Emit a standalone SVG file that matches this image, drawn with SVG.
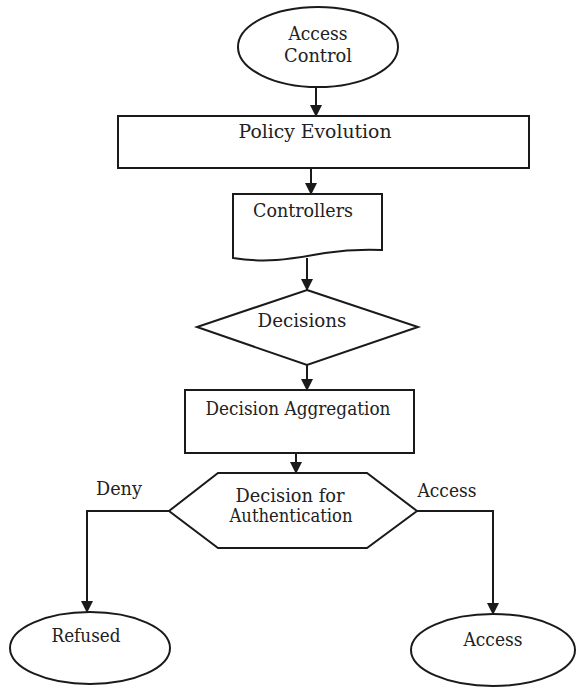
<svg xmlns="http://www.w3.org/2000/svg" width="577" height="688" viewBox="0 0 577 688">
<style>
.s{fill:#fff;stroke:#1a1a1a;stroke-width:2}
.c{fill:none;stroke:#1a1a1a;stroke-width:2}
text{font-family:'DejaVu Serif','Liberation Serif',serif;font-size:18px;fill:#222;text-anchor:middle}
</style>
<defs>
<marker id="ah" markerUnits="userSpaceOnUse" markerWidth="12" markerHeight="12" refX="11" refY="6" orient="auto">
<path d="M0,0 L12,6 L0,12 z" fill="#1a1a1a"/>
</marker>
</defs>
<rect width="577" height="688" fill="#fff"/>
<g id="connectors">
<line class="c" x1="316" y1="87" x2="316" y2="116" marker-end="url(#ah)"/>
<line class="c" x1="311" y1="168" x2="311" y2="194" marker-end="url(#ah)"/>
<line class="c" x1="307" y1="258" x2="307" y2="290" marker-end="url(#ah)"/>
<line class="c" x1="307" y1="365" x2="307" y2="390" marker-end="url(#ah)"/>
<line class="c" x1="296" y1="453" x2="296" y2="473" marker-end="url(#ah)"/>
<path class="c" d="M169,511 H87 V612" marker-end="url(#ah)"/>
<path class="c" d="M417,511 H493 V614" marker-end="url(#ah)"/>
<text x="119" y="495" textLength="46" lengthAdjust="spacingAndGlyphs">Deny</text>
<text x="447" y="497" textLength="59" lengthAdjust="spacingAndGlyphs">Access</text>
</g>
<g id="access-control">
<ellipse class="s" cx="318" cy="47" rx="80" ry="40"/>
<text x="318" y="40" textLength="59" lengthAdjust="spacingAndGlyphs">Access</text>
<text x="318" y="62" textLength="68" lengthAdjust="spacingAndGlyphs">Control</text>
</g>
<g id="policy-evolution">
<rect class="s" x="118" y="116" width="411" height="52"/>
<text x="315" y="138" textLength="153" lengthAdjust="spacingAndGlyphs">Policy Evolution</text>
</g>
<g id="controllers">
<path class="s" d="M233,194 H382 V250 C360,249 345,250 325,253 C295,258 270,264 233,258 Z"/>
<text x="303" y="217" textLength="100" lengthAdjust="spacingAndGlyphs">Controllers</text>
</g>
<g id="decisions">
<polygon class="s" points="307,290 418,327 307,365 197,327"/>
<text x="302" y="327" textLength="89" lengthAdjust="spacingAndGlyphs">Decisions</text>
</g>
<g id="decision-aggregation">
<rect class="s" x="185" y="390" width="229" height="63"/>
<text x="298" y="415" textLength="185" lengthAdjust="spacingAndGlyphs">Decision Aggregation</text>
</g>
<g id="decision-auth">
<polygon class="s" points="169,511 218,473 367,473 417,511 367,548 218,548"/>
<text x="290" y="502" textLength="109" lengthAdjust="spacingAndGlyphs">Decision for</text>
<text x="291" y="522" textLength="123" lengthAdjust="spacingAndGlyphs">Authentication</text>
</g>
<g id="refused">
<ellipse class="s" cx="90" cy="648" rx="80" ry="36"/>
<text x="86" y="642" textLength="69" lengthAdjust="spacingAndGlyphs">Refused</text>
</g>
<g id="access">
<ellipse class="s" cx="493" cy="650" rx="82" ry="36"/>
<text x="493" y="646" textLength="59" lengthAdjust="spacingAndGlyphs">Access</text>
</g>
</svg>
